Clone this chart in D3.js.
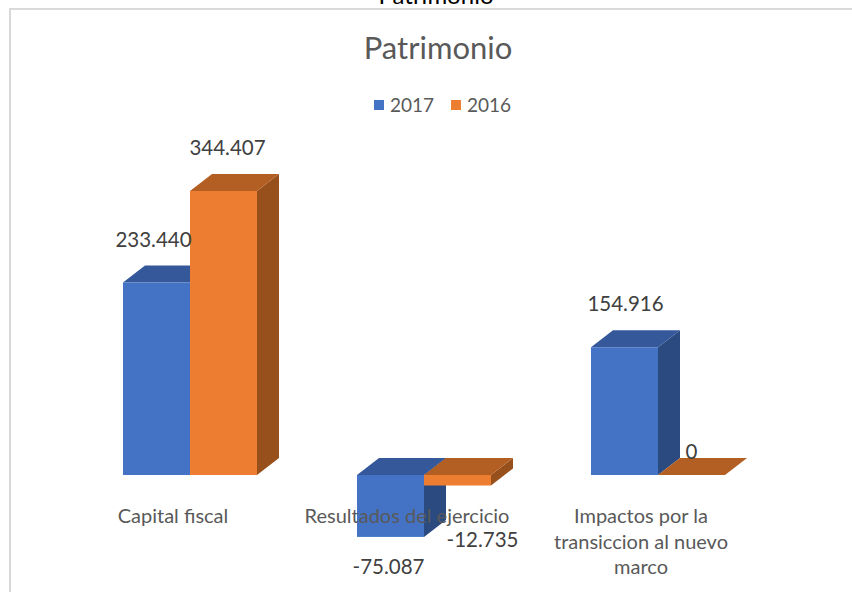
<!DOCTYPE html>
<html>
<head>
<meta charset="utf-8">
<script src="https://cdn.jsdelivr.net/npm/d3@7"></script>
<style>
  html, body { margin: 0; padding: 0; background: #ffffff; }
  svg { display: block; }
  text { font-family: Lato, "Open Sans", sans-serif; }
</style>
</head>
<body>
<svg id="chart" width="852" height="592"></svg>
<script>
// ---------- DATA ----------
const chartTitle = "Patrimonio";
const categories = ["Capital fiscal", "Resultados del ejercicio", "Impactos por la transiccion al nuevo marco"];
const seriesNames = ["2017", "2016"];
const values2017 = [233440, -75087, 154916];
const values2016 = [344407, -12735, 0];

// ---------- LAYOUT / STYLE ----------
const W = 852, H = 592;
const colors = {
  "2017": { front: "#4472C4", top: "#34589A", side: "#2A4A80" },
  "2016": { front: "#ED7D31", top: "#B35E22", side: "#974F1C" }
};
const depthX = 22, depthY = -17;
// label nudges (dx, dy) per series per category, Excel-like placement
const labelNudge = {
  "2017": [[-3, 0], [-2, 0], [1, 0]],
  "2016": [[4, 0], [25, 24], [0, 0]]
};

const locale = d3.formatLocale({ decimal: ",", thousands: ".", grouping: [3], currency: ["$", ""], minus: "-" });
const fmt = locale.format(",.0f");

const svg = d3.select("#chart");

// outer frame (partially visible chart area border)
svg.append("line").attr("x1", 9).attr("x2", W).attr("y1", 9).attr("y2", 9)
  .attr("stroke", "#d9d9d9").attr("stroke-width", 2);
svg.append("line").attr("x1", 10).attr("x2", 10).attr("y1", 8).attr("y2", H)
  .attr("stroke", "#d9d9d9").attr("stroke-width", 2);

// cut-off heading above the frame
svg.append("text").attr("x", 436).attr("y", 4).attr("text-anchor", "middle")
  .attr("font-size", 24).attr("fill", "#000").text(chartTitle);

// chart title
svg.append("text").attr("x", 438).attr("y", 59).attr("text-anchor", "middle")
  .attr("font-size", 31).attr("fill", "#595959").text(chartTitle);

// legend
const legendItems = [{ name: seriesNames[0], x: 374 }, { name: seriesNames[1], x: 451 }];
const lg = svg.append("g");
legendItems.forEach(it => {
  lg.append("rect").attr("x", it.x).attr("y", 100).attr("width", 10).attr("height", 10)
    .attr("fill", colors[it.name].front);
  lg.append("text").attr("x", it.x + 16).attr("y", 112).attr("font-size", 19)
    .attr("fill", "#595959").text(it.name);
});

// scales
const x0 = d3.scaleBand().domain(categories).range([73, 775]).padding(0);
const x1 = d3.scaleBand().domain(seriesNames).range([-67, 67]).padding(0);
const y = d3.scaleLinear().domain([0, 344407]).range([475, 191]);

const data = categories.map((c, i) => ({
  category: c,
  values: [
    { series: "2017", value: values2017[i], idx: i },
    { series: "2016", value: values2016[i], idx: i }
  ]
}));

const plot = svg.append("g");

data.forEach(d => {
  const cx = x0(d.category) + x0.bandwidth() / 2;
  d.values.forEach(v => {
    const xl = cx + x1(v.series);
    const xr = xl + x1.bandwidth();
    const yTop = Math.min(y(v.value), y(0));
    const yBot = Math.max(y(v.value), y(0));
    const c = colors[v.series];
    const g = plot.append("g");
    if (yBot > yTop) {
      g.append("path")
        .attr("d", `M${xr},${yTop} L${xr + depthX},${yTop + depthY} L${xr + depthX},${yBot + depthY} L${xr},${yBot} Z`)
        .attr("fill", c.side);
    }
    g.append("path")
      .attr("d", `M${xl},${yTop} L${xl + depthX},${yTop + depthY} L${xr + depthX},${yTop + depthY} L${xr},${yTop} Z`)
      .attr("fill", c.top);
    if (yBot > yTop) {
      g.append("rect").attr("x", xl).attr("y", yTop).attr("width", xr - xl).attr("height", yBot - yTop)
        .attr("fill", c.front);
    }
  });
});

// data labels
const labels = svg.append("g");
data.forEach(d => {
  const cx = x0(d.category) + x0.bandwidth() / 2;
  d.values.forEach(v => {
    const fc = cx + x1(v.series) + x1.bandwidth() / 2;
    let ly;
    if (v.value > 0) ly = y(v.value) + depthY - 19;
    else if (v.value === 0) ly = y(0) - 16;
    else ly = y(v.value) + 37;
    const n = labelNudge[v.series][v.idx];
    labels.append("text").attr("x", fc + n[0]).attr("y", ly + n[1])
      .attr("text-anchor", "middle").attr("font-size", 20.5).attr("fill", "#404040")
      .text(fmt(v.value));
  });
});

// category labels with wrapping
const catG = svg.append("g");
const catSize = 20;
const wrapWidth = 222;
data.forEach(d => {
  const cx = x0(d.category) + x0.bandwidth() / 2 - 17;
  const t = catG.append("text").attr("text-anchor", "middle").attr("font-size", catSize).attr("fill", "#595959");
  const words = d.category.split(" ");
  let lines = [], line = [];
  const probe = catG.append("text").attr("font-size", catSize);
  words.forEach(w => {
    const test = line.concat([w]).join(" ");
    probe.text(test);
    if (probe.node().getComputedTextLength() > wrapWidth && line.length) {
      lines.push(line.join(" "));
      line = [w];
    } else line.push(w);
  });
  lines.push(line.join(" "));
  probe.remove();
  lines.forEach((ln, k) => {
    t.append("tspan").attr("x", cx).attr("y", 523 + k * 25.5).text(ln);
  });
});
</script>
</body>
</html>
